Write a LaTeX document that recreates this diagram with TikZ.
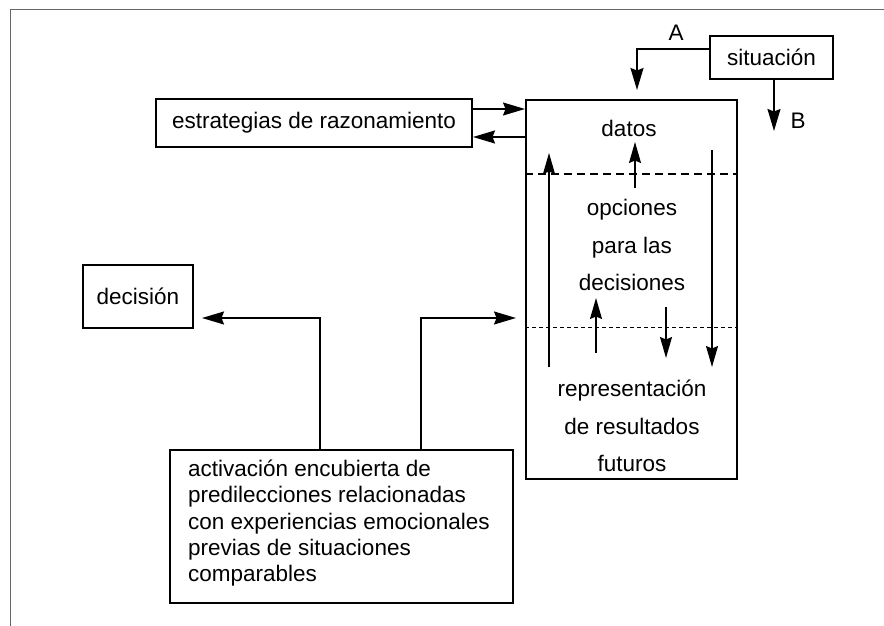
\documentclass[tikz,border=0pt]{standalone}
\usepackage{fontspec}
\setmainfont{Liberation Sans}
\usetikzlibrary{arrows.meta}
\begin{document}
\begin{tikzpicture}[x=1pt,y=-1pt,
  box/.style={draw, line width=2pt, inner sep=0pt, font=\fontsize{22.5}{26}\selectfont},
  arr/.style={line width=1.5pt, -{Stealth[length=22pt,width=13pt,inset=2.5pt]}},
  thinarr/.style={line width=1.3pt, -{Stealth[length=21pt,width=12pt,inset=2.5pt]}},
  lbl/.style={font=\fontsize{22.5}{26}\selectfont, inner sep=0pt},
  frame/.style={draw=black!60, line width=0.8pt}]
\useasboundingbox (0,0) rectangle (884,626);
% frame
\draw[frame] (884,9) -- (10,9) -- (10,626);
% nodes
\node[box, minimum width=123pt, minimum height=43pt] (sit) at (771.5,57.5) {situación};
\node[box, minimum width=316pt, minimum height=48pt] (est) at (314,123) {estrategias de razonamiento};
\node[box, minimum width=211pt, minimum height=379pt] (main) at (631.5,289.5) {};
\node[box, minimum width=110pt, minimum height=63pt] (dec) at (138,296.5) {decisión};
\node[box, minimum width=343pt, minimum height=153pt] (act) at (341.5,526.5) {};
\node[lbl, align=left, anchor=north west, font=\fontsize{22.5}{26.2}\selectfont] (acttext) at (188,460)
  {activación encubierta de\\predilecciones relacionadas\\con experiencias emocionales\\previas de situaciones\\comparables};
% texts inside main box
\node[lbl] (datos) at (629,128) {datos};
\node[lbl, align=center, font=\fontsize{22.5}{37.5}\selectfont] (opc) at (632,245) {opciones\\para las\\decisiones};
\node[lbl, align=center, font=\fontsize{22.5}{37.5}\selectfont] (rep) at (632,426) {representación\\de resultados\\futuros};
\node[lbl] (la) at (676,33) {A};
\node[lbl] (lb) at (798,121) {B};
% separators
\draw[line width=1.8pt, dash pattern=on 8pt off 5pt] (main.west |- 0,174) -- (main.east |- 0,174);
\draw[line width=0.9pt, dash pattern=on 4pt off 3pt] (main.west |- 0,327) -- (main.east |- 0,327);
% coordinates
\coordinate (aend) at (637,90);
\coordinate (bend) at (774,131);
\coordinate (decend) at (202,318);
\coordinate (mainin) at (516,318);
% connectors
\draw[arr] ([yshift=8.5pt]sit.west) -| (aend);
\draw[arr] (sit.south -| bend) -- (bend);
\draw[arr] ([yshift=14pt]est.east) -- ([yshift=14pt]est.east -| main.west);
\draw[arr] ([yshift=-14pt]est.east -| main.west) -- ([yshift=-14pt]est.east);
\draw[arr] (act.north -| 320,0) |- (decend);
\draw[arr] (act.north -| 421,0) |- (mainin);
% inner arrows
\coordinate (u1a) at (549,367); \coordinate (u1b) at (549,153);
\coordinate (u2a) at (635,188); \coordinate (u2b) at (635,142);
\coordinate (d1a) at (712,150); \coordinate (d1b) at (712,367);
\coordinate (u3a) at (596,353); \coordinate (u3b) at (596,298);
\coordinate (d2a) at (666,307); \coordinate (d2b) at (666,358);
\draw[thinarr] (u1a) -- (u1b);
\draw[thinarr] (u2a) -- (u2b);
\draw[thinarr] (d1a) -- (d1b);
\draw[thinarr] (u3a) -- (u3b);
\draw[thinarr] (d2a) -- (d2b);
\end{tikzpicture}
\end{document}
